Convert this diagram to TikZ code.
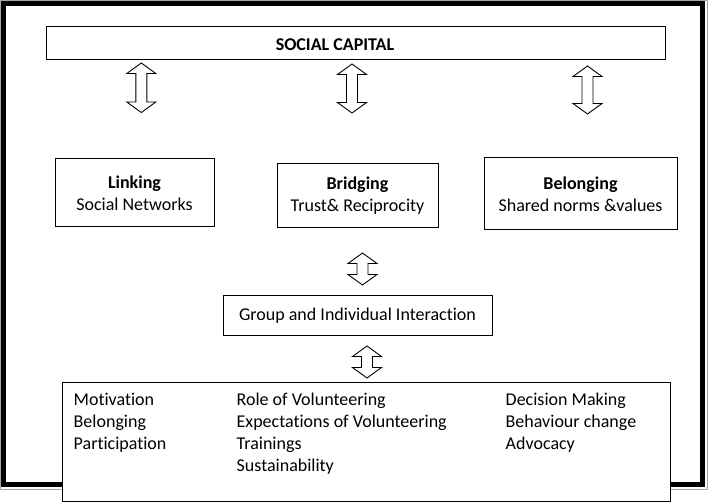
\documentclass[tikz,border=0pt]{standalone}
\usepackage{fontspec}
\setmainfont{Carlito}[Ligatures={NoCommon}]
\usetikzlibrary{calc}

\tikzset{
  box/.style={draw, line width=1pt, fill=white, inner sep=0pt, align=center},
  hollow/.style={draw, line width=0.9pt, fill=white, line join=miter},
}
% up-down block arrow between two apex points
\newcommand{\updown}[2]{%
  \draw[hollow] (#1) -- ++(-14.5,10.5) -- ++(9,0) -- ($(#2)+(-5.5,-10.5)$) -- ++(-9,0)
    -- (#2) -- ++(14.5,-10.5) -- ++(-9,0) -- ($(#1)+(5.5,10.5)$) -- ++(9,0) -- cycle;}

\begin{document}
\fontsize{18}{22}\selectfont
\begin{tikzpicture}[x=1pt,y=-1pt]
\useasboundingbox (0,0) rectangle (709,502);
% frame
\draw[gray!70, line width=1pt] (0.5,0.5) rectangle (707.5,489.5);
\draw[line width=5pt] (3.75,4) rectangle (702.75,484.75);

\node[box, minimum width=619pt, minimum height=33pt] (cap) at (355.5,43.5) {};
\node[font=\bfseries, inner sep=0pt, anchor=base] (captext) at (335,51) {SOCIAL CAPITAL};

\node[box, minimum width=159pt, minimum height=68pt] (linking) at (134.5,193) {\textbf{Linking}\\Social Networks};
\node[box, minimum width=161pt, minimum height=64pt] (bridging) at (357.5,196) {\textbf{Bridging}\\Trust\& Reciprocity};
\node[box, minimum width=193pt, minimum height=72pt] (belonging) at (580.5,194) {\textbf{Belonging}\\Shared norms \&values};
\node[box, minimum width=269pt, minimum height=40pt] (interact) at (357.5,316) {Group and Individual Interaction};
\node[box, minimum width=608pt, minimum height=119pt] (attr) at (366,441.5) {};
\node[anchor=north west, inner sep=0pt] (attrtext) at ($(attr.north west)+(12,8.6)$) {%
  \begin{tabular}{@{}p{151pt}p{257pt}l@{}}
  Motivation & Role of Volunteering & Decision Making\\
  Belonging & Expectations of Volunteering & Behaviour change\\
  Participation & Trainings & Advocacy\\
   & Sustainability & \\
  \end{tabular}};

% arrow ends
\coordinate (a1t) at (141.3,63);  \coordinate (a1b) at (141.3,112.5);
\coordinate (a2t) at (352,64);    \coordinate (a2b) at (352,113);
\coordinate (a3t) at (587.5,66);  \coordinate (a3b) at (587.5,114);
\coordinate (a4t) at (362.5,253); \coordinate (a4b) at (362.5,285);
\coordinate (a5t) at (367,346);   \coordinate (a5b) at (367,378);
\updown{a1t}{a1b}
\updown{a2t}{a2b}
\updown{a3t}{a3b}
\updown{a4t}{a4b}
\updown{a5t}{a5b}
\end{tikzpicture}
\end{document}
